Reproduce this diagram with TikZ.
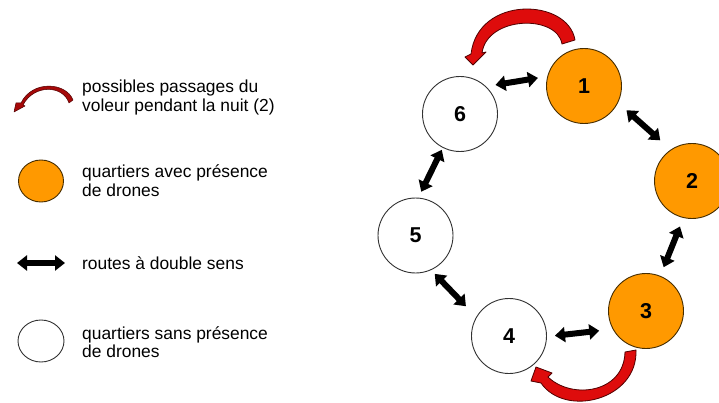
\documentclass[tikz,border=0pt]{standalone}
\usepackage{fontspec}
\setmainfont{Liberation Sans}
\usetikzlibrary{arrows.meta,shapes.geometric}
\definecolor{orangeq}{RGB}{255,153,0}
\definecolor{redfill}{RGB}{222,12,12}
\definecolor{rededge}{RGB}{80,0,0}
\definecolor{circedge}{RGB}{50,50,50}
\definecolor{orangeedge}{RGB}{70,45,0}
\begin{document}
\begin{tikzpicture}[x=1pt,y=-1pt,
  quart/.style={circle,draw=circedge,line width=0.9pt,minimum size=75pt,inner sep=0pt,outer sep=0pt,
     font=\fontsize{21.5}{21.5}\selectfont\bfseries},
  drone/.style={quart,fill=orangeq,draw=orangeedge},
  nodrone/.style={quart,fill=white},
  road/.style={line width=6pt,{Triangle[length=10pt,width=15pt]}-{Triangle[length=10pt,width=15pt]}},
  thief/.style={fill=redfill,draw=rededge,line width=0.8pt,line join=round},
  legtext/.style={anchor=base west,inner sep=0pt,font=\fontsize{17.4}{18}\selectfont}
]
\useasboundingbox (0,0) rectangle (719,403);
\fill[white] (0,0) rectangle (719,403);

% main nodes
\node[drone]   (n1) at (584,86)  {1};
\node[drone]   (n2) at (692,181) {2};
\node[drone]   (n3) at (646,311) {3};
\node[nodrone] (n4) at (509,336) {4};
\node[nodrone] (n5) at (415.5,235.5) {5};
\node[nodrone] (n6) at (460,114) {6};

% roads
\draw[road,shorten <=10pt,shorten >=10pt] (n6.47.6) -- (n1.165.4);
\draw[road,shorten <=11.7pt,shorten >=14.4pt] (n1.-26.6) -- (n2.124);
\draw[road,shorten <=9.6pt,shorten >=9.7pt] (n2.257.7) -- (n3.68.9);
\draw[road,shorten <=14pt,shorten >=8.5pt] (n3.209) -- (n4.-1.2);
\draw[road,shorten <=5.7pt,shorten >=15.3pt] (n5.-66.1) -- (n4.150.5);
\draw[road,shorten <=2.7pt,shorten >=7.1pt] (n6.243.4) -- (n5.86.8);

% thief passages
\path[thief] (575,40) .. controls (568,-2) and (478,-5) .. (471,54) -- (465,57) -- (473,65)
   -- (486,52) -- (482,53) .. controls (487,16) and (557,14) .. (562,44) -- cycle;
\path[thief] (636,350) .. controls (638,400) and (565,418) .. (541,383) -- (531,381) -- (536,367)
   -- (552,373) -- (548,377) .. controls (572,400) and (624,393) .. (625,352) -- cycle;

% legend
\path[thief,fill=redfill!75!black,line width=0.5pt] (73,100) .. controls (66,82) and (32,80) .. (21,103) -- (16,103) -- (14,112)
   -- (25,106) -- (23,105) .. controls (34,84) and (63,85) .. (69,103) -- cycle;
\node[legtext] (t1) at (82,93) {\begin{tabular}[t]{@{}l@{}}possibles passages du\\voleur pendant la nuit (2)\end{tabular}};

\node[ellipse,draw=orangeedge,fill=orangeq,line width=0.9pt,minimum width=45pt,minimum height=42pt,inner sep=0pt] (l2) at (41,181) {};
\node[legtext] (t2) at (82,178) {\begin{tabular}[t]{@{}l@{}}quartiers avec présence\\de drones\end{tabular}};

\coordinate (la) at (17,263);
\coordinate (lb) at (65,263);
\draw[road] (la) -- (lb);
\node[legtext] (t3) at (82,269) {routes à double sens};

\node[ellipse,draw=circedge,fill=white,line width=0.9pt,minimum width=46pt,minimum height=42pt,inner sep=0pt] (l4) at (41,341) {};
\node[legtext] (t4) at (82,339) {\begin{tabular}[t]{@{}l@{}}quartiers sans présence\\de drones\end{tabular}};
\end{tikzpicture}
\end{document}
